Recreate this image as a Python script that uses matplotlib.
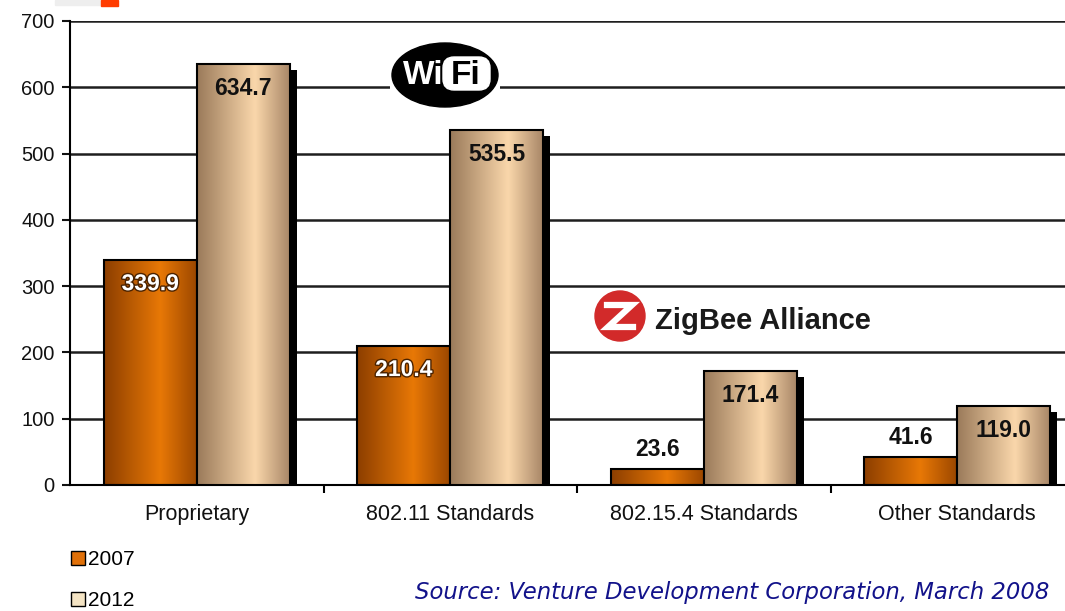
import matplotlib.pyplot as plt
import numpy as np
import matplotlib.patheffects as pe
from matplotlib.colors import LinearSegmentedColormap
from matplotlib.patches import Ellipse, Circle, FancyBboxPatch, Rectangle, Patch

plt.rcParams['font.family'] = ['Liberation Sans', 'DejaVu Sans']

categories = ['Proprietary', '802.11 Standards', '802.15.4 Standards', 'Other Standards']
years = ['2007', '2012']
v2007 = [339.9, 210.4, 23.6, 41.6]
v2012 = [634.7, 535.5, 171.4, 119.0]
source = 'Source: Venture Development Corporation, March 2008'

W, H = 1065, 611
fig = plt.figure(figsize=(W / 100, H / 100), dpi=100)


def box(x, y, w, h):
    # pixel box (top-left origin) -> figure fraction
    return [x / W, 1 - (y + h) / H, w / W, h / H]


ax = fig.add_axes(box(70, 21, 995, 464))
x = np.arange(len(categories))
bw = 0.367

cm07 = LinearSegmentedColormap.from_list('o', [(0, '#8c3e00'), (0.6, '#e87806'), (1, '#9a4600')])
cm12 = LinearSegmentedColormap.from_list('t', [(0, '#9a7a5a'), (0.62, '#fad7ab'), (1, '#a68465')])
grad = np.linspace(0, 1, 256).reshape(1, -1)
shadow = [pe.SimplePatchShadow(offset=(5, -4), shadow_rgbFace='black', alpha=1), pe.Normal()]


def draw(vals, offs, cmap, z):
    bars = ax.bar(x + offs, vals, bw, color='white', edgecolor='none', zorder=z, path_effects=shadow)
    for b in bars:
        im = ax.imshow(grad, cmap=cmap, aspect='auto', zorder=z + 0.1, interpolation='bicubic',
                       extent=[b.get_x(), b.get_x() + b.get_width(), 0, b.get_height()])
        im.set_clip_path(b)
    ax.bar(x + offs, vals, bw, color='none', edgecolor='black', linewidth=1.5, zorder=z + 0.2)
    return bars


draw(v2007, -bw / 2, cm07, 2)
draw(v2012, bw / 2, cm12, 3)

lab = dict(ha='center', va='center', fontsize=16.5, fontweight='bold', zorder=5)
for i, v in enumerate(v2007):
    if v > 100:
        ax.annotate(f'{v:.1f}', (x[i] - bw / 2, v), xytext=(0, -24), textcoords='offset pixels',
                    color='white', path_effects=[pe.withStroke(linewidth=2, foreground='#4a2200')], **lab)
    else:
        ax.annotate(f'{v:.1f}', (x[i] - bw / 2, v), xytext=(0, 20), textcoords='offset pixels',
                    color='#111', **lab)
for i, v in enumerate(v2012):
    ax.annotate(f'{v:.1f}', (x[i] + bw / 2, v), xytext=(0, -24), textcoords='offset pixels',
                color='#111', **lab)

ax.set_xticks(x + 0.5)
ax.set_xticklabels([])
ax.set_xticks(x, minor=True)
ax.set_xticklabels(categories, minor=True, fontsize=15.5)
ax.tick_params(axis='x', which='major', length=6, width=1.5)
ax.tick_params(axis='x', which='minor', length=0, pad=14, colors='#111')
ax.set_yticks(np.arange(0, 701, 100))
ax.tick_params(axis='y', labelsize=14.5, length=6, width=1.5, pad=5, colors='#111')
ax.set_xlim(-0.5, -0.5 + 995 / 253.5)
ax.set_ylim(0, 700)
ax.yaxis.grid(True, color='#1e1e1e', lw=1.8)
ax.set_axisbelow(True)
for s in ['top', 'right']:
    ax.spines[s].set_visible(False)
for s in ['left', 'bottom']:
    ax.spines[s].set_linewidth(1.5)

# Wi-Fi logo
wax = fig.add_axes(box(390, 42, 110, 68))
wax.set_xlim(0, 110)
wax.set_ylim(68, 0)
wax.axis('off')
wax.add_patch(Rectangle((0, 0), 110, 68, color='white'))
wax.add_patch(Ellipse((55, 33), 106, 64, color='black'))
wax.add_patch(FancyBboxPatch((53, 15), 47, 33, boxstyle='round,pad=0,rounding_size=11', color='white'))
wax.text(33, 33, 'Wi', color='white', fontsize=24, fontweight='bold', ha='center', va='center')
wax.text(76, 33, 'Fi', color='black', fontsize=24, fontweight='bold', ha='center', va='center')

# ZigBee logo
zax = fig.add_axes(box(588, 289, 290, 60))
zax.set_xlim(0, 290)
zax.set_ylim(60, 0)
zax.axis('off')
zax.add_patch(Rectangle((0, 0), 290, 60, color='white'))
zax.add_patch(Circle((32, 27), 25, color='#d22a2a'))
zax.plot([19, 44, 20, 45], [16, 16, 38, 38], color='white', lw=4.5, solid_joinstyle='miter')
zax.text(67, 40, 'ZigBee Alliance', fontsize=21, fontweight='bold', color='#1a1a1a', ha='left', va='baseline')

# small decorations at top
fig.add_artist(Rectangle((55 / W, 1 - 5 / H), 45 / W, 5 / H, color='#eeeeee', transform=fig.transFigure))
fig.add_artist(Rectangle((101 / W, 1 - 6 / H), 17 / W, 6 / H, color='#ff3c00', transform=fig.transFigure))

handles = [Patch(facecolor='#e07008', edgecolor='black'), Patch(facecolor='#f4e4c4', edgecolor='black')]
fig.legend(handles, years, loc='upper left', bbox_to_anchor=(71 / W, 1 - 550 / H), frameon=False,
           fontsize=15, handlelength=0.65, handleheight=0.65, handletextpad=0.15, labelspacing=1.05,
           borderpad=0, borderaxespad=0)

fig.text(415 / W, 1 - 593 / H, source, fontsize=16.4, style='italic', color='#12128a',
         family='DejaVu Sans', ha='left', va='center')

fig.savefig('out.png', dpi=100)
